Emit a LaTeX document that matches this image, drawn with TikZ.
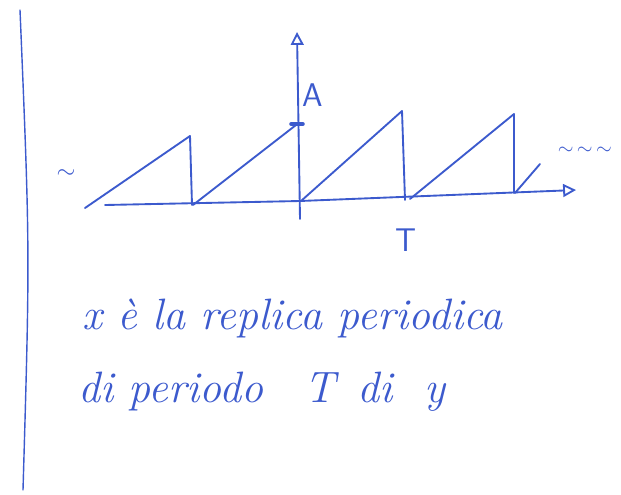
\documentclass[tikz,border=0pt]{standalone}
\usetikzlibrary{arrows.meta}
\begin{document}
\begin{tikzpicture}[x=0.03cm, y=-0.03cm, line cap=round, line join=round]
  \definecolor{penblue}{RGB}{60,90,205}
  \tikzset{pen/.style={penblue, line width=1.6pt},
    hand/.style={penblue, font=\fontsize{37.5}{44}\selectfont\itshape},
    tip/.style={-{Triangle[open,length=11pt,width=11pt]}}}
  \useasboundingbox (0,0) rectangle (621,494);
  \draw[pen, line width=1.2pt] (20,10) .. controls (30,250) .. (23,490);
  \draw[pen, tip] (105,205) -- (300,201) -- (576,190);
  \draw[pen, tip] (300,219) -- (297,32);
  \draw[pen] (85,208) -- (190,136) -- (192,205);
  \draw[pen] (193,205) -- (296,125);
  \draw[pen] (301,201) -- (402,111) -- (405,200);
  \draw[pen] (410,199) -- (514,114) -- (514,193);
  \draw[pen] (515,193) -- (540,164);
  \draw[penblue, line width=3pt] (291,124) -- (303,124);
  \node[hand, font=\fontsize{28}{34}\selectfont\sffamily] (ampl) at (313,95) {A};
  \node[hand, font=\fontsize{28}{34}\selectfont\sffamily] (period) at (406,240) {T};
  \node[hand, font=\fontsize{22}{26}\selectfont] (dotsl) at (66,174) {$\sim$};
  \node[hand, font=\fontsize{16}{20}\selectfont, anchor=east] (dotsr) at (616,151) {$\sim\,\sim\,\sim$};
  \node[hand, anchor=west] (line1) at (78,318) {x è la replica periodica};
  \node[hand, anchor=west] (line2) at (74,392) {di periodo\hspace{22pt} T\hspace{6pt} di\hspace{14pt} y};
\end{tikzpicture}
\end{document}
